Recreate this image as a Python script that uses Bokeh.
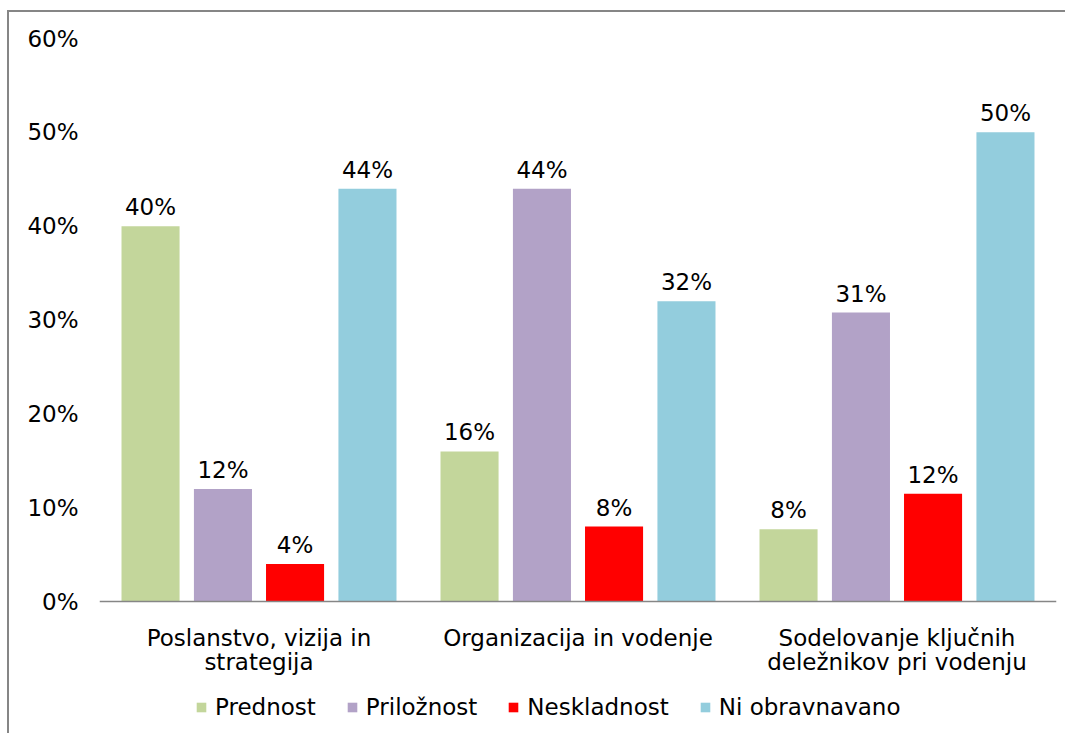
from bokeh.plotting import figure
from bokeh.models import (FactorRange, Range1d, ColumnDataSource, Legend, LegendItem,
                          FixedTicker, PrintfTickFormatter)
from bokeh.transform import dodge
from bokeh.core.properties import value
from bokeh.embed import file_html
from bokeh.resources import INLINE

categories = ["Poslanstvo, vizija in\nstrategija",
              "Organizacija in vodenje",
              "Sodelovanje ključnih\ndeležnikov pri vodenju"]
series_names = ["Prednost", "Priložnost", "Neskladnost", "Ni obravnavano"]
prednost = [40, 16, 7.7]
priloznost = [12, 44, 30.8]
neskladnost = [4, 8, 11.5]
ni_obravnavano = [44, 32, 50]
y_ticks = [0, 10, 20, 30, 40, 50, 60]

colors = ["#C3D69B", "#B2A2C7", "#FF0000", "#93CDDD"]
FONT = "DejaVu Sans"
FS = "23px"

src = ColumnDataSource(dict(
    cat=categories,
    s0=prednost, s1=priloznost, s2=neskladnost, s3=ni_obravnavano,
    l0=[f"{round(v)}%" for v in prednost],
    l1=[f"{round(v)}%" for v in priloznost],
    l2=[f"{round(v)}%" for v in neskladnost],
    l3=[f"{round(v)}%" for v in ni_obravnavano],
))

# the frame reaches down to the bottom edge so the legend can sit inside it
p = figure(x_range=FactorRange(*categories, range_padding=0),
           y_range=Range1d(-14.27, 60),
           width=1058, height=723,
           output_backend="svg", toolbar_location=None,
           min_border_left=90, min_border_right=11,
           min_border_top=26, min_border_bottom=0)
p.margin = (10, 0, 0, 7)
p.styles = {"border-left": "2px solid #868686", "border-top": "2px solid #868686"}
p.outline_line_color = None
p.xgrid.grid_line_color = None
p.ygrid.grid_line_color = None

offsets = [-0.34, -0.113, 0.113, 0.34]
renderers = []
for i, off in enumerate(offsets):
    r = p.vbar(x=dodge("cat", off, range=p.x_range), top=f"s{i}", bottom=0, width=0.182,
               source=src, fill_color=colors[i], line_color=None)
    renderers.append(r)
    p.text(x=dodge("cat", off, range=p.x_range), y=f"s{i}", text=f"l{i}", source=src,
           text_align="center", text_baseline="alphabetic", y_offset=-19,
           text_font=value(FONT), text_font_size=FS, text_color="#000000")

p.yaxis.ticker = FixedTicker(ticks=y_ticks)
p.yaxis.formatter = PrintfTickFormatter(format="%d%%")
p.yaxis.axis_line_color = None
p.yaxis.major_tick_line_color = None
p.yaxis.minor_tick_line_color = None
p.yaxis.major_label_standoff = 15
p.yaxis.major_label_text_font = FONT
p.yaxis.major_label_text_font_size = FS
p.yaxis.major_label_text_color = "#000000"

p.xaxis.fixed_location = 0
p.xaxis.axis_line_color = "#868686"
p.xaxis.axis_line_width = 1.5
p.xaxis.major_tick_line_color = None
p.xaxis.minor_tick_line_color = None
p.xaxis.major_label_standoff = 17
p.xaxis.major_label_text_font = FONT
p.xaxis.major_label_text_font_size = FS
p.xaxis.major_label_text_line_height = 0.95
p.xaxis.major_label_text_color = "#000000"

legend = Legend(items=[LegendItem(label=n, renderers=[r]) for n, r in zip(series_names, renderers)],
                orientation="horizontal", location=(96, 15),
                glyph_width=12, glyph_height=12, label_standoff=8, spacing=30,
                padding=5, margin=0, border_line_color=None, background_fill_alpha=0,
                label_text_font=FONT, label_text_font_size=FS, label_text_color="#000000")
p.add_layout(legend, "center")

open("out.html", "w").write(file_html(p, INLINE))
